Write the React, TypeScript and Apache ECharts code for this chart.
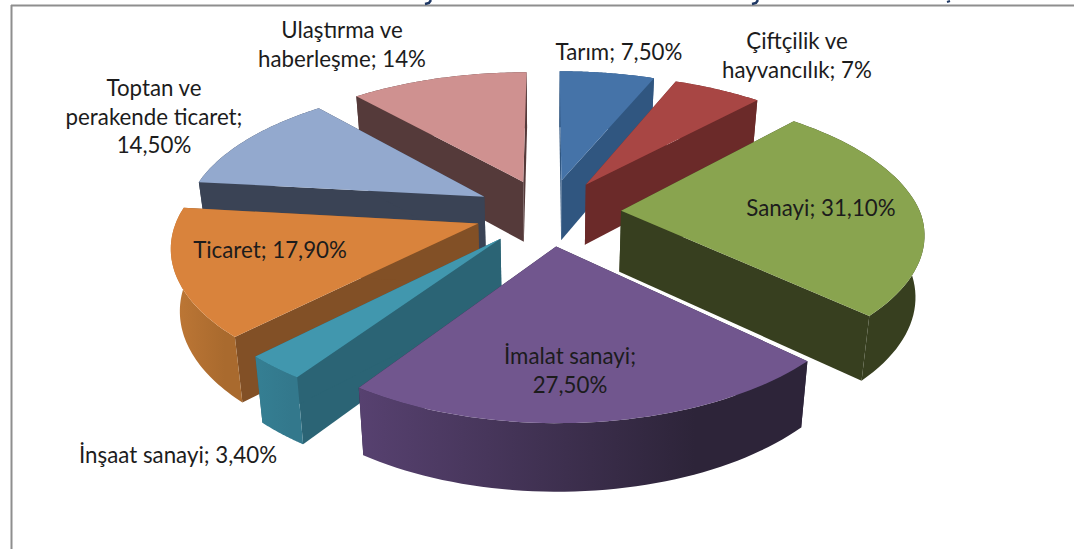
import React, { useEffect, useRef } from "react";
import * as echarts from "echarts";

// ---- data ----
const categories = ["Tarım", "Çiftçilik ve hayvancılık", "Sanayi", "İmalat sanayi", "İnşaat sanayi", "Ticaret", "Toptan ve perakende ticaret", "Ulaştırma ve haberleşme"];
const values = [7.5, 7, 31.1, 27.5, 3.4, 17.9, 14.5, 14];
const labelTexts = ["Tarım; 7,50%", "Çiftçilik ve\nhayvancılık; 7%", "Sanayi; 31,10%", "İmalat sanayi;\n27,50%", "İnşaat sanayi; 3,40%", "Ticaret; 17,90%", "Toptan ve\nperakende ticaret;\n14,50%", "Ulaştırma ve\nhaberleşme; 14%"];

// ---- styles ----
const topColors = ["#4573A8", "#A84644", "#89A44F", "#71568E", "#4197AE", "#D9833C", "#93A9CE", "#CF9190"];
const cutColors = ["#305680", "#6B2A29", "#373F1F", "#2E2540", "#2B6475", "#825026", "#3A4355", "#553A3A"];
const wallLeft = ["#305680", "#6B2A29", "#373F1F", "#574170", "#357F93", "#BF7836", "#3A4355", "#553A3A"];
const wallRight = ["#305680", "#6B2A29", "#373F1F", "#2D2439", "#33788C", "#A96A2E", "#3A4355", "#553A3A"];
const labelX = [619, 797, 821, 570, 178, 270, 154, 342];
const labelY = [51, 55, 207, 370, 454, 249, 116, 44];

// ---- projection of the exploded pie ----
const CX = 548, CY = 212, FX = 299, FY = 136, K = 0.16, EXPLODE = 0.245;
const BOTTOM_SCALE = 0.976;

const total = values.reduce((a, b) => a + b, 0);
const project = (x: number, y: number) => {
  const d = 1 + K * y;
  const narrow = y < 0 ? 1 + 0.018 * y : 1;
  return [CX + (FX * x * narrow) / d, CY - (FY * y) / d];
};
const lower = (p: number[]) => [CX + (p[0] - CX) * BOTTOM_SCALE, p[1] + 61 + 0.036 * (p[1] - CY)];

const sliceAngles = values.map((_, i) => {
  const before = values.slice(0, i).reduce((a, b) => a + b, 0);
  return [(before / total) * 2 * Math.PI, ((before + values[i]) / total) * 2 * Math.PI];
});
const midOf = (i: number) => (sliceAngles[i][0] + sliceAngles[i][1]) / 2;
const drawOrder = values.map((_, i) => i).sort((a, b) => Math.cos(midOf(b)) - Math.cos(midOf(a)));

function renderSlice(params: any, api: any) {
  const i = api.value(0) as number;
  const [a0, a1] = sliceAngles[i];
  const mid = midOf(i);
  const ox = EXPLODE * Math.sin(mid), oy = EXPLODE * Math.cos(mid);
  const apex = project(ox, oy);
  const arc: number[][] = [];
  const n = 48;
  for (let s = 0; s <= n; s++) {
    const t = a0 + ((a1 - a0) * s) / n;
    arc.push(project(ox + Math.sin(t), oy + Math.cos(t)));
  }
  const z = params.dataIndex * 10;
  const quad = (a: number[], b: number[]) => [a, b, lower(b), lower(a)];
  const poly = (points: number[][], fill: any, z2: number) => ({
    type: "polygon",
    shape: { points },
    style: { fill, stroke: "none" },
    z2,
  });
  const outerWall = arc.concat(arc.slice().reverse().map(lower));
  return {
    type: "group",
    children: [
      poly(quad(apex, arc[0]), cutColors[i], z),
      poly(quad(apex, arc[n]), cutColors[i], z),
      poly(outerWall, { type: "linear", x: 0, y: 0, x2: 1, y2: 0, colorStops: [{ offset: 0, color: wallLeft[i] }, { offset: 0.75, color: wallRight[i] }, { offset: 1, color: wallRight[i] }] }, z + 1),
      poly([apex, ...arc], topColors[i], z + 2),
    ],
  };
}

function renderLabel(_: any, api: any) {
  const i = api.value(0) as number;
  return {
    type: "text",
    x: labelX[i],
    y: labelY[i],
    z2: 1000,
    style: {
      text: labelTexts[i],
      fill: "#1c1c1c",
      font: '22.3px Lato, "Open Sans", sans-serif',
      align: "center",
      verticalAlign: "middle",
      lineHeight: 28.5,
    },
  };
}

export default function App() {
  const ref = useRef<HTMLDivElement>(null);
  useEffect(() => {
    const chart = echarts.init(ref.current!, undefined, { renderer: "svg" });
    const frame = "#8E8E8E";
    const tail = "#1F3864";
    chart.setOption({
      animation: false,
      backgroundColor: "#ffffff",
      graphic: [
        { type: "line", shape: { x1: 11, y1: 5.5, x2: 1074, y2: 5.5 }, style: { stroke: frame, lineWidth: 2 } },
        { type: "line", shape: { x1: 11.5, y1: 5, x2: 11.5, y2: 549 }, style: { stroke: frame, lineWidth: 2 } },
        { type: "polyline", shape: { points: [[431, 0], [429, 3], [425, 4]] }, style: { stroke: tail, lineWidth: 2.5, fill: "none" } },
        { type: "polyline", shape: { points: [[758, 0], [756, 3], [752, 4]] }, style: { stroke: tail, lineWidth: 2.5, fill: "none" } },
        { type: "polyline", shape: { points: [[950, 1], [947, 2]] }, style: { stroke: tail, lineWidth: 2, fill: "none" } },
      ],
      series: [
        {
          type: "custom",
          coordinateSystem: "none",
          silent: true,
          data: drawOrder.map((i) => ({ name: categories[i], value: [i, values[i]] })),
          renderItem: renderSlice,
        },
        {
          type: "custom",
          coordinateSystem: "none",
          silent: true,
          z: 5,
          data: categories.map((name, i) => ({ name, value: [i, values[i]] })),
          renderItem: renderLabel,
        },
      ],
    });
    return () => chart.dispose();
  }, []);
  return <div ref={ref} style={{ position: "fixed", left: 0, top: 0, width: 1074, height: 549 }} />;
}
